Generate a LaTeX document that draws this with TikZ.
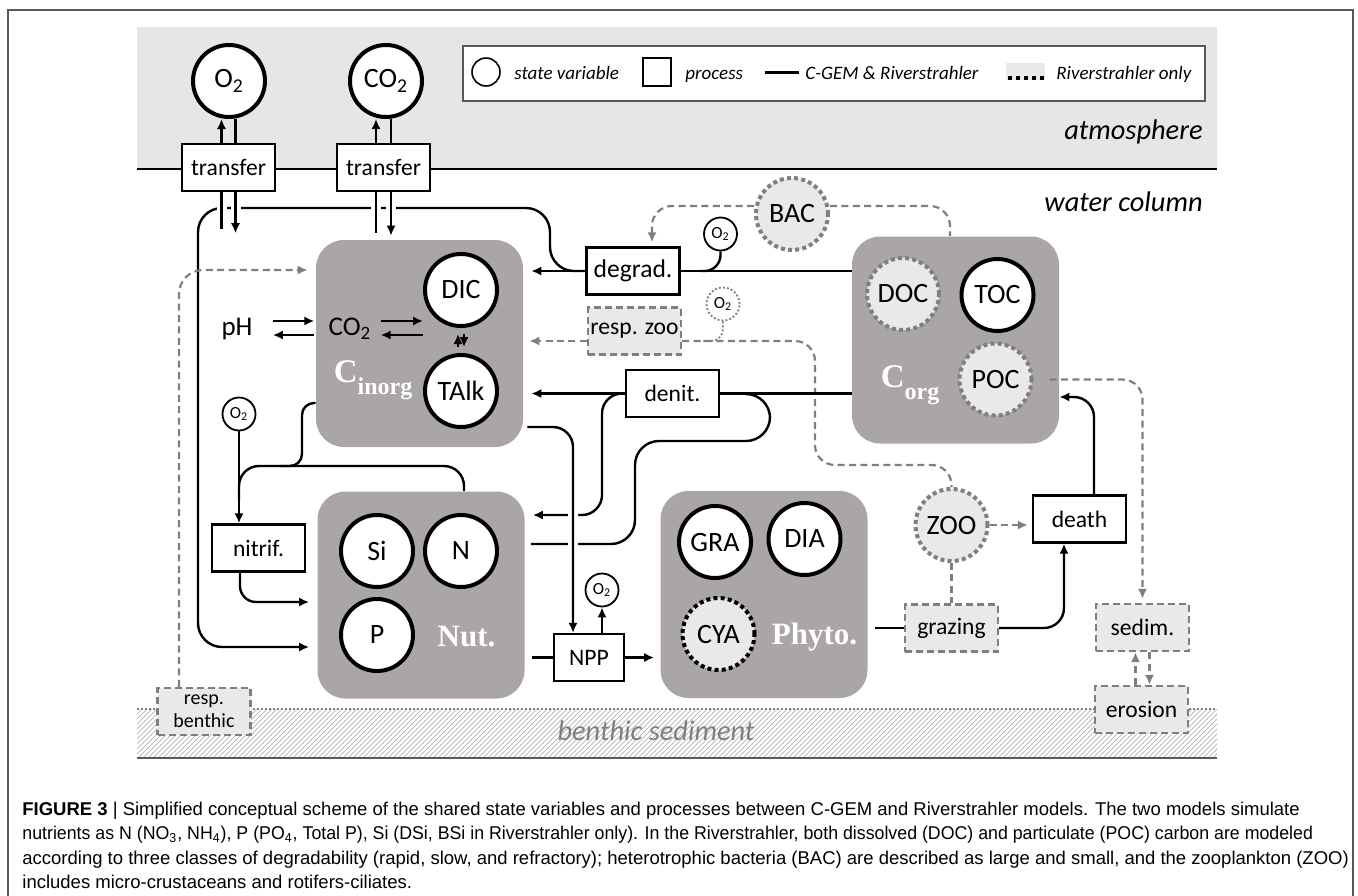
\documentclass[tikz,border=0pt]{standalone}
\usepackage{fontspec}
\setmainfont{Carlito}
\newfontfamily\serifbold{Liberation Serif}
\newfontfamily\capfont{Liberation Sans}
\usetikzlibrary{arrows.meta}

\definecolor{boxgray}{HTML}{AAA6A5}
\definecolor{airgray}{HTML}{E6E6E6}
\definecolor{rfill}{HTML}{E9E9E9}
\definecolor{rgray}{HTML}{7F7F7F}
\definecolor{hatchgray}{HTML}{BDBDBD}
\definecolor{framegray}{HTML}{595959}

\tikzset{
  var/.style={circle,draw,line width=2pt,minimum size=36pt,inner sep=0pt,fill=white,font=\fontsize{14}{16}\selectfont},
  rvar/.style={var,draw=rgray,fill=rfill,dash pattern=on 2pt off 1.6pt},
  ox/.style={circle,draw,line width=0.9pt,minimum size=16.5pt,inner sep=0pt,fill=white,font=\fontsize{8.5}{9}\selectfont},
  proc/.style={draw,line width=1.2pt,minimum width=46.5pt,minimum height=23.5pt,inner sep=0pt,fill=white,font=\fontsize{11.8}{13}\selectfont},
  rproc/.style={proc,draw=rgray,fill=rfill,dash pattern=on 3.5pt off 2pt},
  pool/.style={fill=boxgray,rounded corners=14pt,minimum width=103.5pt,minimum height=103.5pt,inner sep=0pt},
  poolname/.style={text=white,font=\serifbold\bfseries\fontsize{15.5}{17}\selectfont,inner sep=0pt},
  link/.style={line width=1.2pt},
  flow/.style={link,-{Latex[length=5pt,width=4.6pt]}},
  rlink/.style={rgray,line width=1.1pt,dash pattern=on 3.5pt off 2.2pt},
  rflow/.style={rlink,-{Latex[length=5pt,width=4.6pt]}},
  hop/.style={preaction={draw=white,line width=5pt,-,shorten <=2pt,shorten >=2pt}},
  layer/.style={font=\itshape\fontsize{14.2}{16}\selectfont,inner sep=0pt},
  lgtext/.style={anchor=base west,inner sep=0pt,font=\itshape\fontsize{9.5}{11}\selectfont},
  caption/.style={anchor=base west,inner sep=0pt,font=\capfont\fontsize{9.25}{11}\selectfont},
}

\begin{document}
\begin{tikzpicture}[x=0.5pt,y=-0.5pt]
\useasboundingbox (0,0) rectangle (1358,895);
\draw[framegray,line width=0.6pt] (8,900) -- (8,10) -- (1353,10) -- (1353,900);

% atmosphere and sediment
\fill[airgray] (137,27) rectangle (1217,169);
\begin{scope}
\clip (137,709) rectangle (1217,758);
\foreach \i in {0,5,...,1130}
  \draw[hatchgray,line width=0.4pt] (\i+88,758) -- (\i+137,709);
\end{scope}
\draw[rgray,line width=0.8pt,dash pattern=on 1pt off 1pt] (137,709) -- (1217,709);
\draw[framegray,line width=0.6pt] (137,758) -- (1217,758);
\draw[line width=1.2pt] (137,169) -- (1217,169);

\node[layer,anchor=east] (atm) at (1203,132) {atmosphere};
\node[layer,anchor=east] (wat) at (1203,202) {water column};
\node[layer,text=rgray] (sed) at (656,731) {benthic sediment};

% legend
\node[draw=framegray,line width=0.6pt,fill=white,minimum width=371pt,minimum height=27.5pt,inner sep=0pt] (legend) at (834,73.5) {};
\node[circle,draw,line width=0.8pt,minimum size=14pt,inner sep=0pt] (lgvar) at (486,72) {};
\node[lgtext] (lgvartext) at (514,79) {state variable};
\node[draw,line width=0.8pt,minimum size=14pt,inner sep=0pt] (lgproc) at (657,72) {};
\node[lgtext] (lgproctext) at (685,79) {process};
\coordinate (lgsolidA) at (765,72);
\coordinate (lgsolidB) at (799,72);
\draw[line width=1.5pt] (lgsolidA) -- (lgsolidB);
\node[lgtext] (lgsolidtext) at (805,79) {C-GEM \& Riverstrahler};
\fill[rfill] (1006,63) rectangle (1045,80);
\coordinate (lgdotA) at (1008,78);
\coordinate (lgdotB) at (1045,78);
\draw[line width=2.2pt,dash pattern=on 2pt off 2pt] (lgdotA) -- (lgdotB);
\node[lgtext] (lgdottext) at (1056,79) {Riverstrahler only};

% pools
\node[pool] (cinorg) at (419.5,343.5) {};
\node[pool] (nut) at (421,595) {};
\node[pool] (phyto) at (764,594.5) {};
\node[pool] (corg) at (955.5,340) {};
\node[poolname] (cinorgname) at (373,380) {{\fontsize{16.5}{17}\selectfont C}\raisebox{-6pt}{\fontsize{12}{13}\selectfont inorg}};
\node[poolname] (corgname) at (910,385) {{\fontsize{16.5}{17}\selectfont C}\raisebox{-6pt}{\fontsize{12}{13}\selectfont org}};
\node[poolname] (nutname) at (466.5,637) {Nut.};
\node[poolname] (phytoname) at (814.5,637) {Phyto.};

% state variables
\node[var] (o2air) at (229,81) {O\textsubscript{2}};
\node[var] (co2air) at (386,81) {CO\textsubscript{2}};
\node[var] (dic) at (461,290) {DIC};
\node[var] (talk) at (461,391) {TAlk};
\node[var] (si) at (377,551) {Si};
\node[var] (nitro) at (461,551) {N};
\node[var] (phos) at (377,635) {P};
\node[var] (gra) at (715,542) {GRA};
\node[var] (dia) at (804.5,539) {DIA};
\node[var,dash pattern=on 2pt off 1.6pt,fill=rfill] (cya) at (718.5,634) {CYA};
\node[rvar] (doc) at (903,294) {DOC};
\node[var] (toc) at (997.5,295) {TOC};
\node[rvar] (poc) at (995.5,379.5) {POC};
\node[rvar] (bac) at (792,214) {BAC};
\node[rvar] (zoo) at (951.5,525) {ZOO};
\node[anchor=base,inner sep=0pt,font=\fontsize{13.5}{15}\selectfont] (ph) at (237,335) {pH};
\node[anchor=base,inner sep=0pt,font=\fontsize{13.5}{15}\selectfont] (co2w) at (350,335) {CO\textsubscript{2}};

% small oxygen
\node[ox] (o2deg) at (720.5,234) {O\textsubscript{2}};
\node[ox,draw=rgray,dash pattern=on 1pt off 1pt] (o2zoo) at (723,304) {O\textsubscript{2}};
\node[ox] (o2nit) at (239,414) {O\textsubscript{2}};
\node[ox] (o2npp) at (602,590) {O\textsubscript{2}};

% processes
\node[proc] (tr1) at (228.5,167.5) {transfer};
\node[proc] (tr2) at (383.5,167.5) {transfer};
\node[proc,font=\fontsize{12.8}{14}\selectfont] (degrad) at (633,271) {degrad.};
\node[rproc] (rzoo) at (634.5,331) {resp. zoo};
\node[proc] (denit) at (672.5,393.5) {denit.};
\node[proc] (nitrif) at (258.5,548) {nitrif.};
\node[proc,minimum width=35pt] (npp) at (589,657.5) {NPP};
\node[proc] (death) at (1079.5,519) {death};
\node[rproc] (grazing) at (951.5,628) {grazing};
\node[rproc] (sedim) at (1142.5,627.5) {sedim.};
\node[rproc] (erosion) at (1141.5,709.5) {erosion};
\node[rproc,align=center,font=\fontsize{10}{11.5}\selectfont] (rben) at (204,711.5) {resp.\\benthic};

% air-water exchange
\draw[flow] ([xshift=-3.5pt]tr1.north) -- ([xshift=-3.5pt]tr1.north |- o2air.south);
\draw[link] ([xshift=3.5pt]tr1.north) -- ([xshift=3.5pt]tr1.north |- o2air.south);
\draw[flow] ([xshift=-3.75pt]tr2.north) -- ([xshift=-3.75pt]tr2.north |- co2air.south);
\draw[link] ([xshift=3.75pt]tr2.north) -- ([xshift=3.75pt]tr2.north |- co2air.south);

% degradation
\draw[flow,rounded corners=12pt,shorten >=4pt] (degrad.west) -| (550,208) -| (198,647) -- ([yshift=-26pt]nut.west);
\draw[flow,shorten >=4pt] (degrad.west) -- (cinorg.east |- degrad.west);
\draw[link] (corg.west |- degrad.east) -- (degrad.east);
\draw[link,rounded corners=8pt] (o2deg.south) |- ([xshift=10pt]degrad.east);
\draw[rflow,rounded corners=10pt,shorten >=2pt] ([yshift=4pt]bac.west) -| ([xshift=9.5pt]degrad.north);
\draw[rlink,rounded corners=10pt] ([yshift=4pt]bac.east) -| ([xshift=-2.75pt]corg.north);

\draw[link,hop] ([xshift=-3.5pt]tr1.south) -- ++(0,37);
\draw[flow,hop] ([xshift=3.5pt]tr1.south) -- ++(0,41);
\draw[link,hop,shorten >=3.5pt] ([xshift=-3.75pt]tr2.south) -- ([xshift=-3.75pt]tr2.south |- cinorg.north);
\draw[flow,hop,shorten >=2pt] ([xshift=3.75pt]tr2.south) -- ([xshift=3.75pt]tr2.south |- cinorg.north);

% zooplankton respiration
\draw[rflow,shorten >=3pt] ([yshift=-5pt]rzoo.west) -- ([yshift=-5pt]cinorg.east |- rzoo.west);
\draw[rlink,rounded corners=10pt] ([yshift=-5pt]rzoo.east) -| (815,465) -| (zoo.north);
\draw[rgray,line width=0.8pt,dash pattern=on 1pt off 1pt,rounded corners=6pt] (o2zoo.south) |- (702,341);

% denitrification
\draw[link] (corg.west |- denit.east) -- (denit.east);
\draw[flow,shorten >=4pt] (denit.west) -- (cinorg.east |- denit.west);
\draw[flow,rounded corners=10pt,shorten >=4pt] (denit.west) -| (602,515) -- ([yshift=40pt]nut.east);
\draw[link,rounded corners=12pt,shorten <=3pt] ([yshift=25.5pt]nut.east) -| (635,441) -| (770,394) -- (745,394);

% primary production
\draw[flow,hop,rounded corners=10pt,shorten <=2pt] ([yshift=-41.75pt]cinorg.east) -| ([xshift=-8pt]npp.north);
\draw[link,shorten <=3.5pt] (nut.east |- npp.west) -- (npp.west);
\draw[flow,shorten >=3pt] (npp.east) -- (phyto.west |- npp.east);
\draw[flow] (npp.north -| o2npp) -- (o2npp.south);

% nitrification
\draw[flow] (o2nit.south) -- (nitrif.north -| o2nit);
\draw[link,rounded corners=10pt] ([xshift=21.5pt]nut.north) |- (o2nit.south |- 0,466) -- (o2nit.south |- 0,500);
\draw[link,rounded corners=6pt] ([yshift=-29.75pt]cinorg.west) -| (302,466) -- (280,466);
\draw[flow,rounded corners=8pt,shorten >=4pt] ([xshift=-9.25pt]nitrif.south) |- ([yshift=-3.5pt]nut.west);

% benthic respiration
\draw[rflow,rounded corners=12pt,shorten >=4pt] ([xshift=-12.5pt]rben.north) |- ([yshift=36.75pt]cinorg.west);

% grazing and mortality
\draw[link,shorten <=3.5pt] (phyto.east |- grazing.west) -- (grazing.west);
\draw[rlink] (zoo.south) -- (grazing.north);
\draw[rflow,shorten >=2pt] (zoo.east) -- (death.west |- zoo.east);
\draw[flow,rounded corners=10pt] (grazing.east) -| ([xshift=-7.75pt]death.south);
\draw[flow,rounded corners=10pt] ([xshift=7.25pt]death.north) |- ([yshift=-28.5pt]corg.east);

% sedimentation
\draw[rflow,rounded corners=10pt,shorten <=8pt,shorten >=2pt] (poc.east) -| (sedim.north);
\draw[rflow] ([xshift=-3pt]erosion.north) -- ([xshift=-3pt]erosion.north |- sedim.south);
\draw[rflow] ([xshift=3.5pt]sedim.south) -- ([xshift=3.5pt]sedim.south |- erosion.north);

% carbonate system
\draw[flow,shorten <=10pt,shorten >=7pt] ([yshift=7pt]ph.base east) -- ([yshift=7pt]co2w.base west);
\draw[flow,shorten <=7pt,shorten >=10pt] (co2w.base west) -- (ph.base east);
\draw[flow,shorten <=4.5pt] ([yshift=7pt]co2w.base east) -- ([yshift=7pt]co2w.base east -| dic.west);
\draw[flow,shorten >=4.5pt] (co2w.base east -| dic.west) -- (co2w.base east);
\draw[flow,line width=1pt,shorten <=3pt,shorten >=3pt] ([xshift=-1.5pt]talk.north) -- ([xshift=-1.5pt]dic.south);
\draw[flow,line width=1pt,shorten <=3pt,shorten >=3pt] ([xshift=1.5pt]dic.south) -- ([xshift=1.5pt]talk.north);

% caption
\node[caption] (cap1) at (22,815) {\textbf{FIGURE 3} | Simplified conceptual scheme of the shared state variables and processes between C-GEM and Riverstrahler models. The two models simulate};
\node[caption] (cap2) at (22,839.5) {\scalebox{0.96}[1]{nutrients as N (NO\textsubscript{3}, NH\textsubscript{4}), P (PO\textsubscript{4}, Total P), Si (DSi, BSi in Riverstrahler only). In the Riverstrahler, both dissolved (DOC) and particulate (POC) carbon are modeled}};
\node[caption] (cap3) at (22,864) {according to three classes of degradability (rapid, slow, and refractory); heterotrophic bacteria (BAC) are described as large and small, and the zooplankton (ZOO)};
\node[caption] (cap4) at (22,888) {includes micro-crustaceans and rotifers-ciliates.};
\end{tikzpicture}
\end{document}
